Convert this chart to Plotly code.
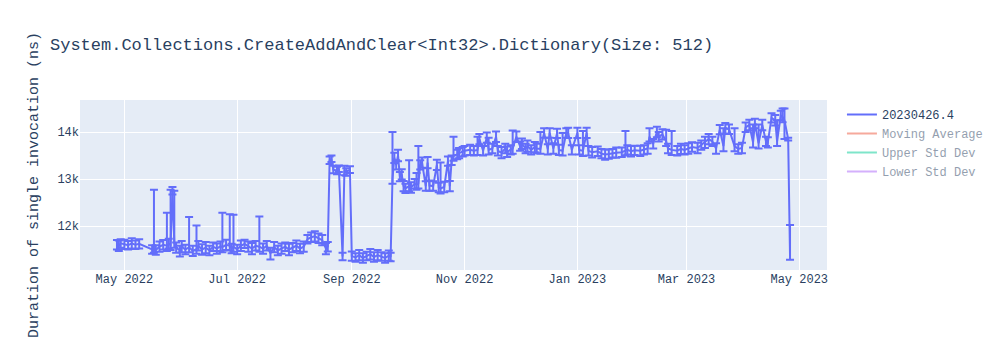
import pandas as pd
import plotly.graph_objects as go

# Per-run benchmark results: run date, mean duration (ns) and spread of the run
run_dates = [
    "2022-04-27", "2022-04-28", "2022-04-29", "2022-05-01", "2022-05-03", "2022-05-05",
    "2022-05-07", "2022-05-09", "2022-05-16", "2022-05-17", "2022-05-18", "2022-05-20",
    "2022-05-22", "2022-05-24", "2022-05-25", "2022-05-26", "2022-05-27", "2022-05-28",
    "2022-05-29", "2022-05-31", "2022-06-01", "2022-06-03", "2022-06-05", "2022-06-07",
    "2022-06-09", "2022-06-10", "2022-06-12", "2022-06-14", "2022-06-16", "2022-06-18",
    "2022-06-20", "2022-06-22", "2022-06-23", "2022-06-25", "2022-06-27", "2022-06-28",
    "2022-06-29", "2022-07-01", "2022-07-03", "2022-07-05", "2022-07-07", "2022-07-09",
    "2022-07-11", "2022-07-13", "2022-07-15", "2022-07-17", "2022-07-19", "2022-07-21",
    "2022-07-23", "2022-07-25", "2022-07-27", "2022-07-29", "2022-07-31", "2022-08-02",
    "2022-08-04", "2022-08-06", "2022-08-08", "2022-08-10", "2022-08-12", "2022-08-14",
    "2022-08-16", "2022-08-18", "2022-08-19", "2022-08-20", "2022-08-21", "2022-08-22",
    "2022-08-24", "2022-08-25", "2022-08-27", "2022-08-28", "2022-08-29", "2022-08-31",
    "2022-09-01", "2022-09-03", "2022-09-05", "2022-09-07", "2022-09-09", "2022-09-11",
    "2022-09-13", "2022-09-15", "2022-09-17", "2022-09-19", "2022-09-21", "2022-09-22",
    "2022-09-23", "2022-09-24", "2022-09-25", "2022-09-26", "2022-09-27", "2022-09-28",
    "2022-09-29", "2022-09-30", "2022-10-02", "2022-10-03", "2022-10-05", "2022-10-06",
    "2022-10-07", "2022-10-08", "2022-10-09", "2022-10-11", "2022-10-12", "2022-10-13",
    "2022-10-15", "2022-10-17", "2022-10-18", "2022-10-19", "2022-10-21", "2022-10-23",
    "2022-10-24", "2022-10-25", "2022-10-26", "2022-10-28", "2022-10-29", "2022-10-31",
    "2022-11-01", "2022-11-04", "2022-11-06", "2022-11-08", "2022-11-09", "2022-11-11",
    "2022-11-13", "2022-11-14", "2022-11-16", "2022-11-18", "2022-11-19", "2022-11-21",
    "2022-11-23", "2022-11-24", "2022-11-26", "2022-11-27", "2022-11-29", "2022-12-01",
    "2022-12-02", "2022-12-04", "2022-12-05", "2022-12-07", "2022-12-09", "2022-12-10",
    "2022-12-12", "2022-12-14", "2022-12-16", "2022-12-17", "2022-12-19", "2022-12-21",
    "2022-12-22", "2022-12-24", "2022-12-26", "2022-12-27", "2022-12-29", "2023-01-01",
    "2023-01-02", "2023-01-04", "2023-01-06", "2023-01-07", "2023-01-09", "2023-01-12",
    "2023-01-14", "2023-01-16", "2023-01-18", "2023-01-20", "2023-01-22", "2023-01-25",
    "2023-01-27", "2023-01-28", "2023-01-30", "2023-02-01", "2023-02-04", "2023-02-06",
    "2023-02-08", "2023-02-09", "2023-02-11", "2023-02-13", "2023-02-14", "2023-02-16",
    "2023-02-18", "2023-02-19", "2023-02-21", "2023-02-24", "2023-02-26", "2023-02-28",
    "2023-03-02", "2023-03-04", "2023-03-07", "2023-03-09", "2023-03-11", "2023-03-13",
    "2023-03-15", "2023-03-17", "2023-03-19", "2023-03-21", "2023-03-22", "2023-03-24",
    "2023-03-27", "2023-03-29", "2023-03-31", "2023-04-02", "2023-04-04", "2023-04-06",
    "2023-04-07", "2023-04-09", "2023-04-11", "2023-04-13", "2023-04-14", "2023-04-16",
    "2023-04-18", "2023-04-19", "2023-04-21", "2023-04-22", "2023-04-23", "2023-04-25",
    "2023-04-26",
]

mean_ns = [
    11600, 11580, 11630, 11610, 11590, 11630,
    11600, 11620, 11500, 11520, 11490, 11560,
    11600, 11580, 11620, 11600, 12750, 11650,
    11540, 11480, 11560, 11500, 11550, 11470,
    11510, 11580, 11500, 11540, 11480, 11560,
    11520, 11570, 11550, 11600, 11580, 11520,
    11560, 11500, 11580, 11620, 11560, 11520,
    11580, 11560, 11520, 11580, 11420, 11550,
    11480, 11520, 11560, 11500, 11540, 11580,
    11520, 11560, 11720, 11760, 11780, 11740,
    11700, 11520, 11560, 13400, 13430, 13200,
    13180, 13220, 11350, 13180, 13150, 13200,
    11360, 11330, 11380, 11320, 11360, 11400,
    11340, 11380, 11350, 11320, 11370, 11340,
    13000, 13450, 13300, 13500, 13050, 13100,
    12850, 12800, 12850, 12820, 12900, 12880,
    12900, 13300, 13350, 12850, 13350, 12860,
    12850, 13300, 12820, 12800, 12830, 13380,
    12850, 13400, 13500, 13520, 13550, 13580,
    13600, 13620, 13600, 13620, 13850, 13600,
    13880, 13620, 13650, 13900, 13600, 13560,
    13650, 13580, 13620, 13650, 13900, 13700,
    13750, 13650, 13700, 13620, 13680, 13650,
    13640, 13980, 13630, 13980, 13650, 13970,
    13620, 13600, 13980, 13980, 13620, 13980,
    13620, 13600, 13980, 13600, 13570, 13590,
    13540, 13520, 13530, 13550, 13560, 13570,
    13600, 13620, 13590, 13610, 13600, 13620,
    13650, 13900, 13750, 14000, 13900, 13950,
    13800, 13650, 13620, 13600, 13640, 13620,
    13650, 13680, 13660, 13720, 13780, 13850,
    13800, 13650, 14050, 13700, 14080, 14060,
    13700, 13640, 13660, 14100, 14150, 13780,
    14180, 13760, 14150, 13800, 13780, 14300,
    14250, 13800, 14350, 14320, 14250, 13850,
    11370,
]

spread_plus = [
    100, 110, 90, 100, 90, 110,
    90, 100, 90, 1250, 100, 110,
    100, 700, 110, 1170, 80, 1100,
    110, 100, 120, 100, 640, 110,
    500, 100, 110, 120, 100, 90,
    110, 100, 730, 110, 670, 100,
    680, 100, 110, 90, 110, 120,
    100, 640, 110, 100, 120, 110,
    100, 110, 90, 120, 100, 110,
    100, 110, 90, 100, 110, 100,
    110, 120, 100, 80, 70, 80,
    80, 70, 80, 100, 80, 70,
    100, 90, 110, 100, 90, 110,
    100, 110, 90, 100, 110, 90,
    1000, 110, 100, 120, 100, 110,
    110, 100, 550, 110, 100, 250,
    800, 100, 110, 100, 120, 110,
    100, 110, 100, 550, 110, 100,
    110, 100, 400, 100, 110, 100,
    100, 110, 100, 280, 110, 100,
    110, 260, 100, 110, 100, 120,
    100, 110, 100, 380, 110, 100,
    110, 100, 120, 100, 110, 100,
    360, 100, 110, 100, 110, 100,
    110, 380, 100, 110, 100, 110,
    100, 420, 110, 100, 110, 100,
    100, 110, 100, 90, 110, 100,
    420, 100, 110, 100, 110, 100,
    110, 180, 100, 110, 100, 110,
    250, 100, 400, 100, 110, 100,
    110, 100, 110, 100, 120, 110,
    100, 110, 100, 380, 110, 100,
    380, 100, 110, 100, 110, 380,
    100, 400, 110, 100, 110, 100,
    110, 450, 100, 180, 250, 30,
    650,
]

spread_minus = [
    100, 110, 90, 100, 90, 110,
    90, 100, 90, 90, 100, 110,
    100, 110, 100, 110, 80, 110,
    110, 130, 120, 100, 110, 110,
    100, 100, 110, 120, 100, 90,
    110, 100, 110, 110, 100, 100,
    110, 100, 110, 90, 110, 120,
    100, 110, 110, 100, 130, 110,
    100, 110, 90, 120, 100, 110,
    100, 110, 90, 100, 110, 100,
    110, 120, 100, 80, 70, 80,
    80, 70, 80, 100, 80, 70,
    100, 90, 110, 100, 90, 110,
    100, 110, 90, 100, 110, 90,
    100, 110, 100, 120, 100, 110,
    110, 100, 110, 110, 100, 110,
    100, 100, 110, 100, 120, 110,
    100, 110, 100, 110, 110, 100,
    110, 100, 110, 100, 110, 100,
    100, 110, 100, 110, 110, 100,
    110, 100, 100, 110, 100, 120,
    100, 110, 100, 110, 110, 100,
    110, 100, 120, 100, 110, 100,
    100, 100, 110, 100, 110, 100,
    110, 100, 100, 110, 100, 110,
    100, 110, 110, 100, 110, 100,
    100, 110, 100, 90, 110, 100,
    100, 100, 110, 100, 110, 100,
    110, 100, 100, 110, 100, 110,
    100, 100, 110, 100, 110, 100,
    110, 100, 110, 100, 120, 110,
    100, 110, 100, 110, 110, 100,
    110, 100, 110, 100, 110, 110,
    100, 110, 110, 100, 110, 100,
    110, 100, 100, 110, 400, 30,
    90,
]

run_name = "20230426.4"
title_text = "System.Collections.CreateAddAndClear&lt;Int32&gt;.Dictionary(Size: 512)"
y_title = "Duration of single invocation (ns)"
x_range = ["2022-04-07", "2023-05-16"]
y_range = [11064, 14681]

df = pd.DataFrame({"date": pd.to_datetime(run_dates), "mean": mean_ns})
window = 10
rolling_mean = df["mean"].rolling(window, min_periods=1).mean()
rolling_std = df["mean"].rolling(window, min_periods=1).std().fillna(0)

fig = go.Figure()
fig.add_trace(go.Scatter(
    x=df["date"], y=df["mean"], name=run_name, mode="lines",
    line=dict(color="#636efa", width=2),
    error_y=dict(type="data", symmetric=False, array=spread_plus,
                 arrayminus=spread_minus, color="#636efa", thickness=2, width=4),
))
fig.add_trace(go.Scatter(x=df["date"], y=rolling_mean, name="Moving Average",
                         mode="lines", line=dict(color="#EF553B"), visible="legendonly"))
fig.add_trace(go.Scatter(x=df["date"], y=rolling_mean + rolling_std, name="Upper Std Dev",
                         mode="lines", line=dict(color="#00cc96"), visible="legendonly"))
fig.add_trace(go.Scatter(x=df["date"], y=rolling_mean - rolling_std, name="Lower Std Dev",
                         mode="lines", line=dict(color="#ab63fa"), visible="legendonly"))

fig.update_layout(
    template="plotly",
    width=1000, height=350,
    title=dict(text=title_text),
    font=dict(family="Courier New, Liberation Mono, monospace"),
    yaxis=dict(title=dict(text=y_title, font=dict(size=15)), range=y_range),
    xaxis=dict(range=x_range),
)

fig.write_html("out.html")
